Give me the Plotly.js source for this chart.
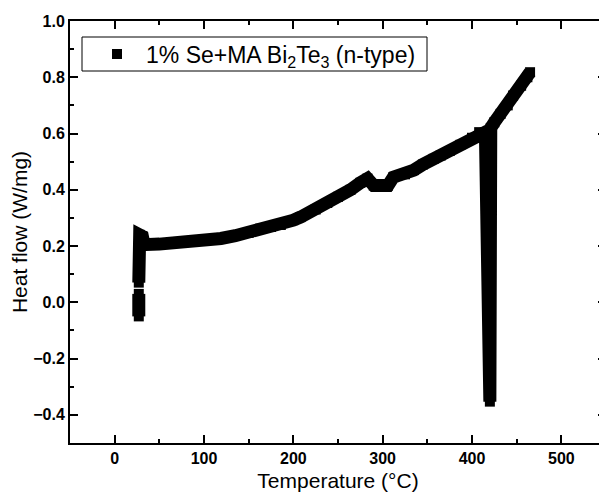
<!DOCTYPE html>
<html>
<head>
<meta charset="utf-8">
<script src="https://cdn.plot.ly/plotly-3.0.1.min.js"></script>
<style>
  html, body { margin: 0; padding: 0; background: #fff; overflow: hidden; }
  #chart { width: 607px; height: 493px; }
</style>
</head>
<body>
<div id="chart"></div>
<script>
// Temperature (°C)
const temperature = [27, 27, null, 27, 27, 28, 31, 33, 50, 62, 75, 100, 119, 135, 150, 163, 175, 186, 200, 208, 225, 238, 250, 264, 275, 283, 290, 300, 306, 312, 325, 335, 345, 357, 365, 375, 387, 400, 408, 415, 420, 421, 425, 432, 440, 446, 455, 462, 465];
// Heat flow (W/mg)
const heatFlow = [-0.05, 0.03, null, 0.07, 0.20, 0.24, 0.235, 0.205, 0.207, 0.209, 0.213, 0.220, 0.227, 0.237, 0.247, 0.262, 0.268, 0.275, 0.292, 0.303, 0.330, 0.353, 0.375, 0.400, 0.425, 0.440, 0.415, 0.410, 0.415, 0.445, 0.455, 0.470, 0.490, 0.510, 0.522, 0.538, 0.560, 0.585, 0.605, 0.605, -0.353, 0.620, 0.640, 0.670, 0.700, 0.735, 0.770, 0.800, 0.818];
const seriesName = '1% Se+MA Bi<sub>2</sub>Te<sub>3</sub> (n-type)';
const xTitle = 'Temperature (°C)';
const yTitle = 'Heat flow (W/mg)';

const font = 'Arial, "Liberation Sans", sans-serif';

const traces = [
  {
    x: temperature, y: heatFlow, type: 'scatter', mode: 'lines',
    line: { color: '#000', width: 13 }, connectgaps: false,
    showlegend: false, hoverinfo: 'skip'
  },
  {
    x: temperature, y: heatFlow, type: 'scatter', mode: 'markers',
    marker: { symbol: 'square', size: 10, color: '#000' },
    name: seriesName, showlegend: true
  }
];

const axisCommon = {
  showline: true, linecolor: '#000', linewidth: 2,
  mirror: 'ticks', ticks: 'inside', ticklen: 8, tickwidth: 2, tickcolor: '#000',
  showgrid: false, zeroline: false,
  tickfont: { family: font, size: 16, color: '#000', weight: 'bold' }
};

const layout = {
  width: 607, height: 493,
  margin: { l: 70, r: 1, t: 21, b: 50 },
  paper_bgcolor: '#fff', plot_bgcolor: '#fff',
  showlegend: true,
  legend: {
    x: (88 - 70) / 536, y: 1 - (54 - 21) / 422, xanchor: 'left', yanchor: 'middle',
    borderwidth: 0, bgcolor: 'rgba(0,0,0,0)',
    font: { family: font, size: 23, color: '#000' },
    itemwidth: 48
  },
  shapes: [{
    type: 'rect', xref: 'paper', yref: 'paper', layer: 'above',
    x0: (82 - 70) / 536, x1: (427 - 70) / 536,
    y0: 1 - (71 - 21) / 422, y1: 1 - (37 - 21) / 422,
    line: { color: '#000', width: 1 }, fillcolor: 'rgba(0,0,0,0)'
  }],
  xaxis: Object.assign({}, axisCommon, {
    range: [-50, 550], dtick: 100, tick0: 0,
    minor: { ticks: 'inside', ticklen: 4, tickwidth: 2, tickcolor: '#000', dtick: 50, tick0: 0 },
    title: { text: xTitle, font: { family: font, size: 21, color: '#000' }, standoff: 7 }
  }),
  yaxis: Object.assign({}, axisCommon, {
    range: [-0.5, 1.0], dtick: 0.2, tick0: 0, tickformat: '.1f',
    minor: { ticks: 'inside', ticklen: 4, tickwidth: 2, tickcolor: '#000', dtick: 0.1, tick0: 0 },
    title: { text: yTitle, font: { family: font, size: 21, color: '#000' }, standoff: 0 }
  })
};

Plotly.newPlot('chart', traces, layout, { displayModeBar: false, staticPlot: true });
</script>
</body>
</html>
